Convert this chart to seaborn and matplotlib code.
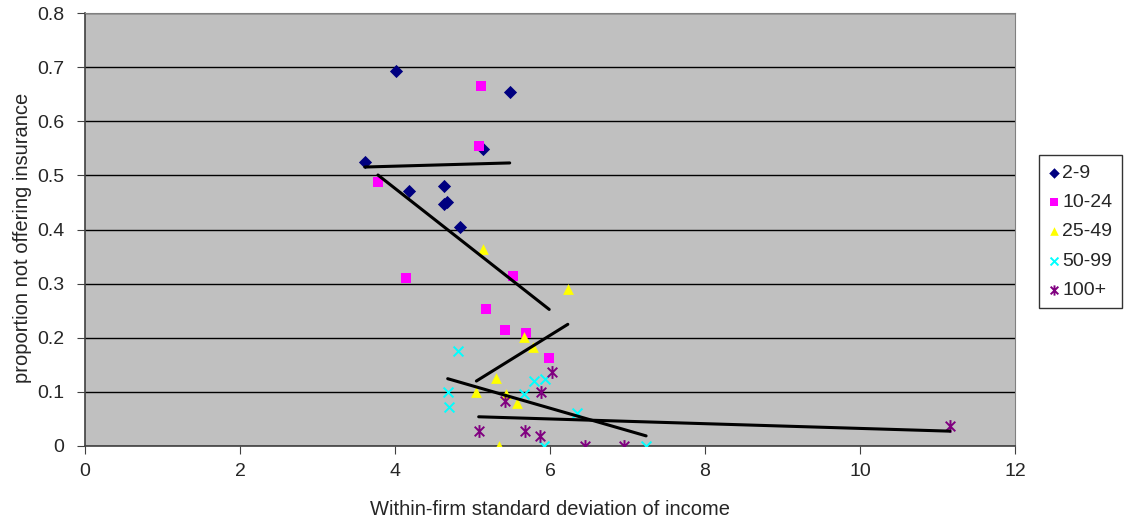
import pandas as pd
import matplotlib
matplotlib.use("Agg")
import matplotlib.pyplot as plt
from matplotlib.path import Path
import seaborn as sns

# values
groups = ["2-9", "10-24", "25-49", "50-99", "100+"]

x_2_9 = [4.01, 5.48, 3.61, 5.14, 4.18, 4.63, 4.63, 4.67, 4.84]
y_2_9 = [0.693, 0.654, 0.525, 0.548, 0.471, 0.480, 0.447, 0.451, 0.405]

x_10_24 = [5.11, 5.08, 3.78, 4.14, 5.52, 5.17, 5.42, 5.69, 5.99]
y_10_24 = [0.665, 0.554, 0.488, 0.310, 0.314, 0.253, 0.215, 0.209, 0.163]

x_25_49 = [5.14, 6.23, 5.66, 5.78, 5.30, 5.05, 5.43, 5.57, 5.34]
y_25_49 = [0.364, 0.290, 0.201, 0.183, 0.126, 0.100, 0.096, 0.080, 0.0]

x_50_99 = [4.81, 4.68, 4.70, 5.79, 5.94, 5.66, 6.35, 5.92, 7.24]
y_50_99 = [0.176, 0.100, 0.072, 0.120, 0.124, 0.096, 0.061, 0.0, 0.0]

x_100 = [6.03, 5.88, 5.42, 5.08, 5.68, 5.87, 6.45, 6.95, 11.16]
y_100 = [0.137, 0.100, 0.083, 0.027, 0.027, 0.019, 0.0, 0.0, 0.037]

xs = [x_2_9, x_10_24, x_25_49, x_50_99, x_100]
ys = [y_2_9, y_10_24, y_25_49, y_50_99, y_100]

df = pd.concat(
    [pd.DataFrame({"x": x, "y": y, "size": g}) for g, x, y in zip(groups, xs, ys)],
    ignore_index=True,
)

# Excel-style asterisk: an x with a vertical bar through it
star = Path([(0, -1), (0, 1), (-0.75, -0.75), (0.75, 0.75), (-0.75, 0.75), (0.75, -0.75)],
            [Path.MOVETO, Path.LINETO] * 3)

colors = {"2-9": "#000080", "10-24": "#FF00FF", "25-49": "#FFFF00",
          "50-99": "#00FFFF", "100+": "#800080"}
markers = {"2-9": "D", "10-24": "s", "25-49": "^", "50-99": "x", "100+": star}
msize = {"2-9": 45, "10-24": 50, "25-49": 60, "50-99": 50, "100+": 85}

sns.set_style("white")
plt.rcParams["font.family"] = ["Liberation Sans", "DejaVu Sans"]

fig = plt.figure(figsize=(11.27, 5.26), dpi=100)
ax = fig.add_axes([85 / 1127, 1 - 446 / 526, 930 / 1127, 433 / 526])
ax.set_facecolor("#C0C0C0")

for g in groups:
    sub = df[df["size"] == g]
    ax.scatter(sub["x"], sub["y"], marker=markers[g], s=msize[g],
               color=colors[g], linewidths=1.4 if g in ("50-99", "100+") else 0,
               label=g, zorder=3)

# linear trend line for each group
for g in groups:
    sub = df[df["size"] == g]
    sns.regplot(data=sub, x="x", y="y", ax=ax, scatter=False, ci=None,
                truncate=True, line_kws={"color": "black", "lw": 2.2, "zorder": 4})

ax.set_xlim(0, 12)
ax.set_ylim(0, 0.8)
ax.set_xticks(range(0, 13, 2))
ax.set_yticks([i / 10 for i in range(9)])
ax.set_yticklabels(["0"] + [f"{i / 10:.1f}" for i in range(1, 9)])
ax.yaxis.grid(True, color="black", lw=1)
ax.set_axisbelow(True)
ax.tick_params(axis="both", labelsize=14, length=6, direction="out",
               bottom=True, left=True, color="#404040")
ax.tick_params(axis="x", pad=6)
ax.tick_params(axis="y", pad=9)
for side in ["top", "right"]:
    ax.spines[side].set_color("#808080")
for side in ["left", "bottom"]:
    ax.spines[side].set_color("#404040")
    ax.spines[side].set_linewidth(1.2)
ax.set_xlabel("Within-firm standard deviation of income", fontsize=14.5)
ax.set_ylabel("proportion not offering insurance", fontsize=14.5)
ax.xaxis.set_label_coords(0.5, -0.125)
ax.yaxis.set_label_coords(-0.057, 0.48)

leg = ax.legend(loc="upper left", bbox_to_anchor=(1039 / 1127, 1 - 155 / 526),
                bbox_transform=fig.transFigure, frameon=True, fancybox=False,
                edgecolor="black", fontsize=14, markerscale=0.8,
                handletextpad=0.12, borderpad=0.48, labelspacing=0.6,
                handlelength=0.6, borderaxespad=0)
leg.get_frame().set_linewidth(1)

fig.savefig("out.png", dpi=100)
